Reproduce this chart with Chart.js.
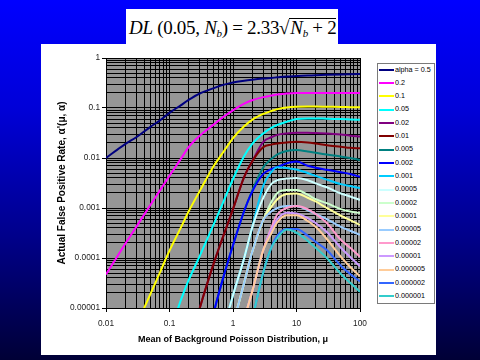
<!DOCTYPE html>
<html>
<head>
<meta charset="utf-8">
<script src="https://cdn.jsdelivr.net/npm/chart.js@4.4.1/dist/chart.umd.min.js"></script>
<style>
  html, body { margin: 0; padding: 0; }
  body {
    width: 480px; height: 360px; overflow: hidden; position: relative;
    background: linear-gradient(180deg, #0000ff 0%, #0000d8 30%, #00008c 65%, #000036 100%);
  }
  #panel { position: absolute; left: 41px; top: 44px; width: 395px; height: 311px; background: #fff; }
  #formula {
    position: absolute; left: 126px; top: 9px; width: 212px; height: 35px; background: #fff;
    font-family: 'Liberation Serif', 'Times New Roman', serif; font-size: 19px; line-height: 37px;
    letter-spacing: -0.3px; white-space: nowrap; color: #000; box-sizing: border-box; padding-left: 3px;
  }
  #formula sub { font-size: 11px; vertical-align: -3px; line-height: 0; }
  #formula .ov { border-top: 1px solid #000; line-height: 17px; display: inline-block; padding-left: 1px; }
  .wrap { position: absolute; left: 0; top: 0; width: 480px; height: 360px; }
  #legend {
    position: absolute; left: 377px; top: 63px; width: 56px; height: 239px;
    border: 1px solid #7a7a7a; background: #fff; overflow: hidden;
  }
  #legend .rows { position: relative; top: -1.5px; }
  #legend .item {
    height: 13.33px; line-height: 13.33px; white-space: nowrap;
    font-family: 'Liberation Sans', Arial, sans-serif; font-size: 7.2px; color: #000;
  }
  #legend .swatch { display: inline-block; width: 15px; height: 2px; margin: 0 1px 0 1px; vertical-align: middle; }
</style>
</head>
<body>
<div id="panel"></div>
<div id="formula"><i>DL</i> (0.05, <i>N<sub>b</sub></i>) = 2.33√<span class="ov"><i>N<sub>b</sub></i> + 2</span></div>
<div class="wrap"><canvas id="chart"></canvas></div>
<div id="legend"><div class="rows"></div></div>
<script>
// mean of background Poisson distribution (x positions of the sampled points)
const muValues = [0.01, 0.02, 0.03, 0.05, 0.07, 0.1, 0.15, 0.2, 0.3, 0.5, 0.7, 1, 1.5, 2, 3, 4, 5, 7, 10, 15, 20, 30, 50, 70, 100];

const xTickLabels = ['0.01', '0.1', '1', '10', '100'];
const yTickLabels = ['0.00001', '0.0001', '0.001', '0.01', '0.1', '1'];

const seriesLabels = ['alpha = 0.5', '0.2', '0.1', '0.05', '0.02', '0.01', '0.005', '0.002', '0.001', '0.0005',
    '0.0002', '0.0001', '0.00005', '0.00002', '0.00001', '0.000005', '0.000002', '0.000001'];
const seriesColors = ['#000080', '#ff00ff', '#ffff00', '#00ffff', '#800080', '#800000', '#008080', '#0000ff', '#00ccff',
    '#ccffff', '#ccffcc', '#ffff99', '#99ccff', '#ff99cc', '#cc99ff', '#ffcc99', '#3366ff', '#33cccc'];

// actual false positive rate
const s0_5 = [0.01, 0.019, 0.026, 0.042, 0.056, 0.08, 0.113, 0.145, 0.195, 0.25, 0.29, 0.325, 0.352, 0.368, 0.388, 0.4, 0.41, 0.425, 0.435, 0.445, 0.45, 0.46, 0.47, 0.475, 0.48];
const s0_2 = [4.7e-5, 1.9e-4, 4.2e-4, 1.15e-3, 2.2e-3, 4.4e-3, 9.5e-3, 0.0165, 0.028, 0.047, 0.066, 0.09, 0.122, 0.143, 0.165, 0.177, 0.186, 0.196, 0.2, 0.2, 0.2, 0.2, 0.2, 0.2, 0.2];
const s0_1 = [null, 1.3e-6, 4.4e-6, 1.9e-5, 5e-5, 1.4e-4, 4e-4, 8.5e-4, 2.2e-3, 7e-3, 0.013, 0.025, 0.043, 0.058, 0.076, 0.087, 0.095, 0.102, 0.106, 0.107, 0.107, 0.106, 0.105, 0.104, 0.103];
const s0_05 = [null, null, null, null, null, 3e-6, 1.4e-5, 3.6e-5, 1.1e-4, 4.8e-4, 1.3e-3, 3.8e-3, 0.011, 0.019, 0.031, 0.04, 0.046, 0.053, 0.06, 0.062, 0.062, 0.061, 0.06, 0.059, 0.058];
const s0_02 = [null, null, null, null, null, null, null, 1.5e-6, 1e-5, 8e-5, 2.7e-4, 9.5e-4, 4.2e-3, 8.5e-3, 0.021, 0.026, 0.029, 0.031, 0.032, 0.032, 0.0315, 0.031, 0.0295, 0.028, 0.027];
const s0_01 = [null, null, null, null, null, null, null, 1.5e-6, 1e-5, 8e-5, 2.7e-4, 9.5e-4, 4.2e-3, 8.5e-3, 0.0165, 0.0185, 0.0195, 0.0205, 0.0212, 0.0205, 0.0195, 0.018, 0.0168, 0.016, 0.0156];
const s0_005 = [null, null, null, null, null, null, null, null, 5e-7, 8.3e-6, 4e-5, 1.8e-4, 8.7e-4, 2.2e-3, 6.5e-3, 9.5e-3, 0.0118, 0.0138, 0.0145, 0.0135, 0.0127, 0.0117, 0.0107, 0.01, 0.0091];
const s0_002 = [null, null, null, null, null, null, null, null, 5e-7, 8.3e-6, 4e-5, 1.8e-4, 8.7e-4, 2.1e-3, 4.8e-3, 6e-3, 6.6e-3, 7.8e-3, 8.5e-3, 7e-3, 6.4e-3, 5.8e-3, 5.2e-3, 4.8e-3, 4.2e-3];
const s0_001 = [null, null, null, null, null, null, null, null, null, null, 3.6e-6, 1.8e-5, 1e-4, 4e-4, 2.8e-3, 5.2e-3, 6.5e-3, 6.3e-3, 5.9e-3, 5e-3, 4.4e-3, 3.7e-3, 3e-3, 2.75e-3, 2.5e-3];
const s0_0005 = [null, null, null, null, null, null, null, null, null, null, 3.6e-6, 1.8e-5, 1e-4, 4e-4, 1.6e-3, 3e-3, 3.6e-3, 3.9e-3, 4e-3, 3.6e-3, 3.1e-3, 2.6e-3, 1.95e-3, 1.7e-3, 1.45e-3];
const s0_0002 = [null, null, null, null, null, null, null, null, null, null, null, 4.6e-6, 3.2e-5, 1.3e-4, 5.8e-4, 1.3e-3, 2e-3, 2.3e-3, 2.3e-3, 1.85e-3, 1.5e-3, 1.25e-3, 9.5e-4, 8.5e-4, 7.9e-4];
const s0_0001 = [null, null, null, null, null, null, null, null, null, null, null, 4.6e-6, 3.2e-5, 1.3e-4, 5.8e-4, 1.05e-3, 1.5e-3, 1.9e-3, 1.95e-3, 1.6e-3, 1.35e-3, 1e-3, 7e-4, 5.7e-4, 4.6e-4];
const s0_00005 = [null, null, null, null, null, null, null, null, null, null, null, 4.6e-6, 3.2e-5, 1.3e-4, 5.8e-4, 8.5e-4, 1e-3, 1.1e-3, 1.1e-3, 9e-4, 7.6e-4, 6e-4, 4.2e-4, 3.5e-4, 2.9e-4];
const s0_00002 = [null, null, null, null, null, null, null, null, null, null, null, null, 6e-6, 2.1e-5, 1.45e-4, 4e-4, 7.5e-4, 1e-3, 1.1e-3, 9.5e-4, 7.6e-4, 5e-4, 2.3e-4, 1.6e-4, 1.06e-4];
const s0_00001 = [null, null, null, null, null, null, null, null, null, null, null, null, 6e-6, 2.1e-5, 1.45e-4, 3.6e-4, 6e-4, 8e-4, 7.8e-4, 6.3e-4, 5e-4, 3.3e-4, 1.6e-4, 1.05e-4, 6.8e-5];
const s0_000005 = [null, null, null, null, null, null, null, null, null, null, null, null, 6e-6, 2.1e-5, 1.45e-4, 3.1e-4, 5.2e-4, 7.2e-4, 7.2e-4, 5.5e-4, 4.2e-4, 2.4e-4, 1.05e-4, 6.6e-5, 4.3e-5];
const s0_000002 = [null, null, null, null, null, null, null, null, null, null, null, null, null, 5.8e-6, 5.2e-5, 1.6e-4, 2.8e-4, 3.8e-4, 3.8e-4, 2.8e-4, 2.1e-4, 1.45e-4, 7e-5, 4.8e-5, 3.4e-5];
const s0_000001 = [null, null, null, null, null, null, null, null, null, null, null, null, null, 5.8e-6, 5.2e-5, 1.6e-4, 2.5e-4, 3.7e-4, 3.2e-4, 2.2e-4, 1.6e-4, 1e-4, 4.8e-5, 3.2e-5, 2.1e-5];

const seriesValues = [s0_5, s0_2, s0_1, s0_05, s0_02, s0_01, s0_005, s0_002, s0_001, s0_0005,
    s0_0002, s0_0001, s0_00005, s0_00002, s0_00001, s0_000005, s0_000002, s0_000001];

const fontFamily = "'Liberation Sans', Arial, sans-serif";

// gridlines at 1..9 x 10^n, labels only on the decades
function decadeTicks(lo, hi) {
    const ticks = [];
    for (let e = lo; e < hi; e++) {
        for (let m = 1; m < 10; m++) ticks.push({ value: m * Math.pow(10, e) });
    }
    ticks.push({ value: Math.pow(10, hi) });
    return ticks;
}
function decadeIndex(v, lo) {
    const l = Math.log10(v);
    return Math.abs(l - Math.round(l)) < 1e-6 ? Math.round(l) - lo : -1;
}

const plotBackground = {
    id: 'plotBackground',
    beforeDraw(chart) {
        const { ctx, chartArea: a } = chart;
        ctx.save();
        ctx.fillStyle = '#969696';
        ctx.fillRect(a.left, a.top, a.width, a.height);
        ctx.restore();
    }
};

const htmlLegend = {
    id: 'htmlLegend',
    afterUpdate(chart) {
        const rows = document.querySelector('#legend .rows');
        rows.innerHTML = '';
        const items = chart.options.plugins.legend.labels.generateLabels(chart)
            .sort((a, b) => a.datasetIndex - b.datasetIndex);
        items.forEach(item => {
            const row = document.createElement('div');
            row.className = 'item';
            const sw = document.createElement('span');
            sw.className = 'swatch';
            sw.style.background = item.strokeStyle;
            const tx = document.createElement('span');
            tx.textContent = item.text;
            row.append(sw, tx);
            rows.appendChild(row);
        });
    }
};

const canvas = document.getElementById('chart');

new Chart(canvas.getContext('2d'), {
    type: 'line',
    data: {
        datasets: seriesValues.map((vals, i) => ({
            label: seriesLabels[i],
            data: vals.map((y, j) => ({ x: muValues[j], y: y })),
            borderColor: seriesColors[i],
            backgroundColor: seriesColors[i],
            borderWidth: 2,
            pointRadius: 0,
            fill: false,
            cubicInterpolationMode: 'monotone',
            order: -i
        }))
    },
    options: {
        responsive: true,
        maintainAspectRatio: false,
        animation: false,
        layout: { padding: { left: 41, top: 58, right: 120, bottom: 5 } },
        plugins: {
            legend: { display: false },
            tooltip: { enabled: false }
        },
        scales: {
            x: {
                type: 'logarithmic',
                min: 0.01,
                max: 100,
                afterBuildTicks: s => { s.ticks = decadeTicks(-2, 2); },
                afterFit: s => { s.height = 47; },
                ticks: {
                    autoSkip: false, maxRotation: 0, padding: 7, color: '#222',
                    font: { family: fontFamily, size: 8.3 },
                    callback: v => { const k = decadeIndex(v, -2); return k >= 0 ? xTickLabels[k] : ''; }
                },
                grid: {
                    color: '#000', lineWidth: 1, tickLength: 4,
                    tickColor: c => (c.tick && decadeIndex(c.tick.value, -2) >= 0 ? '#000' : 'rgba(0,0,0,0)')
                },
                border: { color: '#000' },
                title: {
                    display: true, text: 'Mean of Background Poisson Distribution, μ', color: '#000',
                    font: { family: fontFamily, size: 9, weight: 'bold' }, padding: { top: 0, bottom: 10 }
                }
            },
            y: {
                type: 'logarithmic',
                min: 0.00001,
                max: 1,
                afterBuildTicks: s => { s.ticks = decadeTicks(-5, 0); },
                afterFit: s => { s.width = 65; },
                ticks: {
                    autoSkip: false, padding: 2, color: '#222',
                    font: { family: fontFamily, size: 8.3 },
                    callback: v => { const k = decadeIndex(v, -5); return k >= 0 ? yTickLabels[k] : ''; }
                },
                grid: {
                    color: '#000', lineWidth: 1, tickLength: 4,
                    tickColor: c => (c.tick && decadeIndex(c.tick.value, -5) >= 0 ? '#000' : 'rgba(0,0,0,0)')
                },
                border: { color: '#000' },
                title: {
                    display: true, text: "Actual False Positive Rate, α'(μ, α)", color: '#000',
                    font: { family: fontFamily, size: 10, weight: 'bold' }, padding: { top: 15, bottom: 0 }
                }
            }
        }
    },
    plugins: [plotBackground, htmlLegend]
});
</script>
</body>
</html>
